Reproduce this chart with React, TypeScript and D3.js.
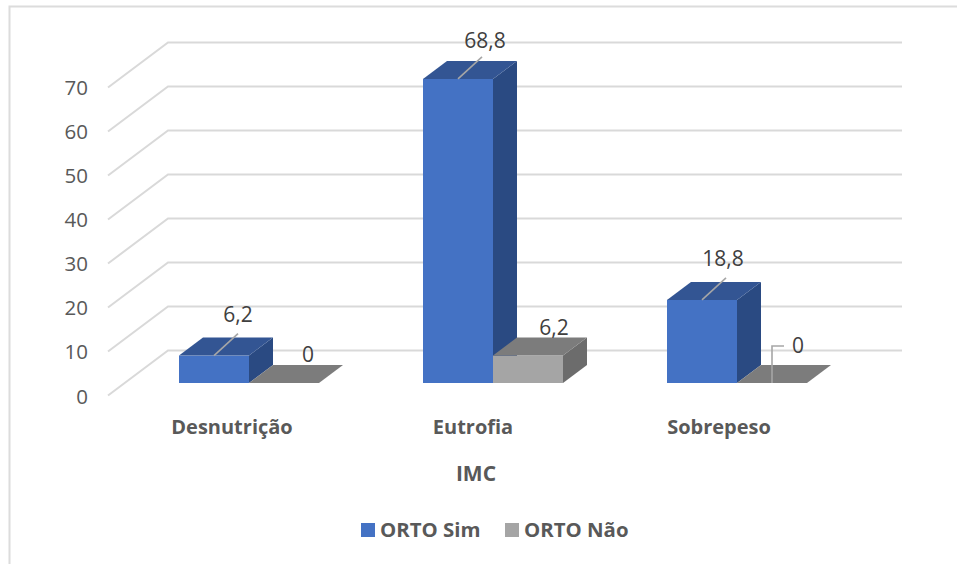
import React from 'react';
import * as d3 from 'd3';

const categories = ['Desnutrição', 'Eutrofia', 'Sobrepeso'];
const seriesNames = ['ORTO Sim', 'ORTO Não'];
const orto_sim = [6.2, 68.8, 18.8];
const orto_nao = [0, 6.2, 0];
const ticks = [0, 10, 20, 30, 40, 50, 60, 70];
const axisTitle = 'IMC';

const W = 957, H = 564;
const FONT = '"Open Sans", sans-serif';
const DX = 24, DY = -18;
const y = d3.scaleLinear().domain([0, 70]).range([383, 73.6]);
const yGrid = d3.scaleLinear().domain([0, 70]).range([350.5, 42.5]);
const yTickText = d3.scaleLinear().domain([0, 70]).range([403.5, 94.5]);
const x0 = d3.scaleBand<string>().domain(categories).range([118, 850]).paddingInner(0).paddingOuter(0);
const BW = 70;
const barX = (i: number, s: number) => x0(categories[i])! + x0.bandwidth() / 2 - BW + s * BW + 9;

const pts = (p: [number, number][]) => p.map(q => q.join(',')).join(' ');

const colors = [
  { front: '#4472c4', top: '#335593', side: '#2a4a82' },
  { front: '#a5a5a5', top: '#7c7c7c', side: '#6c6c6c' },
];

function Bar({ i, s, v }: { i: number; s: number; v: number }) {
  const c = colors[s];
  const xl = barX(i, s), xr = xl + BW;
  const yb = y(0), yt = y(v);
  return (
    <g>
      {v > 0 && <rect x={xl} y={yt} width={BW} height={yb - yt} fill={c.front} />}
      {v > 0 && (
        <polygon
          points={pts([[xr, yt], [xr + DX, yt + DY], [xr + DX, yb + DY], [xr, yb]])}
          fill={c.side}
        />
      )}
      <polygon
        points={pts([[xl, yt], [xl + DX, yt + DY], [xr + DX, yt + DY], [xr, yt]])}
        fill={c.top}
      />
    </g>
  );
}

const labels: { i: number; s: number; lx: number; ly: number }[] = [
  { i: 0, s: 0, lx: 238, ly: 322 },
  { i: 1, s: 0, lx: 485, ly: 48 },
  { i: 2, s: 0, lx: 723, ly: 266 },
  { i: 0, s: 1, lx: 308, ly: 362 },
  { i: 1, s: 1, lx: 554, ly: 335 },
  { i: 2, s: 1, lx: 798, ly: 353 },
];

export default function App() {
  return (
    <svg width={W} height={H} style={{ position: 'absolute', left: 0, top: 0 }} fontFamily={FONT}>
      <rect x={0} y={0} width={W} height={H} fill="#fff" />
      <path d="M9.5,564 V6.5 H957" fill="none" stroke="#dcdcdc" strokeWidth={2} />
      {ticks.map(t => {
        const yBack = yGrid(t);
        return (
          <g key={t}>
            <polyline
              points={pts([[108, yBack + 45], [168, yBack], [902, yBack]])}
              fill="none"
              stroke="#d9d9d9"
              strokeWidth={2}
            />
            <text x={88} y={yTickText(t)} fontSize={20.5} fill="#595959" textAnchor="end">{t}</text>
          </g>
        );
      })}
      {orto_sim.map((_, i) => (
        <g key={i}>
          <Bar i={i} s={0} v={orto_sim[i]} />
          <Bar i={i} s={1} v={orto_nao[i]} />
        </g>
      ))}
      {orto_sim.map((v, i) => {
        const xl = barX(i, 0);
        return (
          <line key={i} x1={xl + 35} y1={y(v)} x2={xl + 35 + 24} y2={y(v) - 22} stroke="#a6a6a6" strokeWidth={1.6} />
        );
      })}
      <polyline
        points={pts([[barX(2, 1) + 35, y(0)], [barX(2, 1) + 35, y(0) - 37], [barX(2, 1) + 47, y(0) - 37]])}
        fill="none"
        stroke="#a6a6a6"
        strokeWidth={1.6}
      />
      {labels.map(l => (
        <text key={`${l.i}-${l.s}`} x={l.lx} y={l.ly} fontSize={21} fill="#404040" textAnchor="middle">
          {String(l.s === 0 ? orto_sim[l.i] : orto_nao[l.i]).replace('.', ',')}
        </text>
      ))}
      {categories.map((c, i) => (
        <text key={c} x={[232, 473, 719][i]} y={434} fontSize={20} fontWeight={700} fill="#595959" textAnchor="middle">{c}</text>
      ))}
      <text x={476} y={481} fontSize={21} fontWeight={700} fill="#595959" textAnchor="middle">{axisTitle}</text>
      <rect x={361} y={523} width={14} height={14} fill={colors[0].front} />
      <text x={380} y={537} fontSize={20.4} fontWeight={700} fill="#595959">{seriesNames[0]}</text>
      <rect x={505} y={523} width={14} height={14} fill={colors[1].front} />
      <text x={524} y={537} fontSize={20.4} fontWeight={700} fill="#595959">{seriesNames[1]}</text>
    </svg>
  );
}
